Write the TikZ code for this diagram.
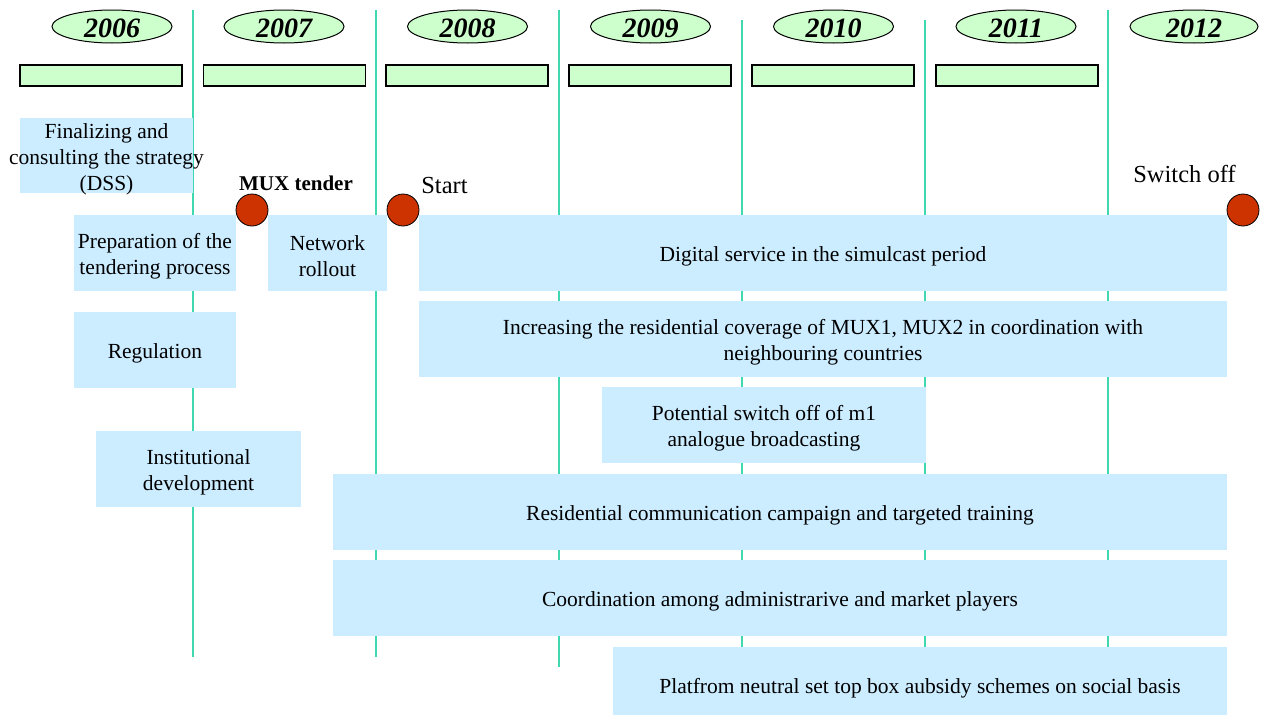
\documentclass[tikz,border=0pt]{standalone}
\usepackage{fontspec}
\setmainfont{Liberation Serif}
\usetikzlibrary{shapes.geometric}
\definecolor{boxblue}{RGB}{204,236,255}
\definecolor{yeargreen}{RGB}{204,255,204}
\definecolor{dotred}{RGB}{204,51,0}
\definecolor{gridline}{RGB}{64,216,176}
\begin{document}
\begin{tikzpicture}[x=1pt,y=-1pt,
  yearell/.style={ellipse, draw=black, line width=1pt, fill=yeargreen, inner sep=0pt,
    minimum width=120pt, minimum height=33pt},
  yeartext/.style={inner sep=0pt, font=\fontsize{28}{30}\selectfont\bfseries\itshape},
  yearbar/.style={draw=black, line width=1.2pt, fill=yeargreen, inner sep=0pt,
    minimum width=162pt, minimum height=21pt},
  box/.style={fill=boxblue, inner sep=0pt},
  boxtext/.style={inner sep=0pt, align=center, font=\fontsize{21.5}{26}\selectfont},
  gline/.style={draw=gridline, line width=2pt},
  milestone/.style={circle, draw=black, line width=0.8pt, fill=dotred, minimum size=32pt, inner sep=0pt},
  mlabel/.style={inner sep=0pt, anchor=base, font=\fontsize{24.5}{28}\selectfont},
  mlabelbold/.style={inner sep=0pt, anchor=base, font=\fontsize{21}{24}\selectfont\bfseries}]
\clip (0,0) rectangle (1264,715);
\fill[white] (0,0) rectangle (1264,715);
% year separators
\draw[gline] (193,10) -- (193,657);
\draw[gline] (376,10) -- (376,657);
\draw[gline] (559,10) -- (559,667);
\draw[gline] (742,20) -- (742,700);
\draw[gline] (925,20) -- (925,700);
\draw[gline] (1108,10) -- (1108,700);
% years
\node[yearell] (y2006) at (112,26.5) {};
\node[yearell] (y2007) at (284,26.5) {};
\node[yearell] (y2008) at (467.5,26.5) {};
\node[yearell] (y2009) at (650.5,26.5) {};
\node[yearell] (y2010) at (833.5,26.5) {};
\node[yearell] (y2011) at (1016,26.5) {};
\node[yearell, minimum width=128pt] (y2012) at (1194,26.5) {};
\foreach \n/\t in {y2006/2006,y2007/2007,y2008/2008,y2009/2009,y2010/2010,y2011/2011,y2012/2012}
  \node[yeartext] (\n t) at ([yshift=-2pt]\n.center) {\t};
% bars
\node[yearbar] (b2006) at (101,75.5) {};
\node[yearbar] (b2007) at (284.5,75.5) {};
\node[yearbar] (b2008) at (467,75.5) {};
\node[yearbar] (b2009) at (650,75.5) {};
\node[yearbar] (b2010) at (833,75.5) {};
\node[yearbar] (b2011) at (1017,75.5) {};
% activity boxes
\node[box, minimum width=173pt, minimum height=75pt] (fin) at (106.5,155.5) {};
\node[box, minimum width=162pt, minimum height=76pt] (prep) at (155,253) {};
\node[box, minimum width=119pt, minimum height=76pt] (net) at (327.5,253) {};
\node[box, minimum width=808pt, minimum height=76pt] (dig) at (823,253) {};
\node[box, minimum width=808pt, minimum height=76pt] (inc) at (823,339) {};
\node[box, minimum width=162pt, minimum height=76pt] (reg) at (155,350) {};
\node[box, minimum width=324pt, minimum height=76pt] (pot) at (764,425) {};
\node[box, minimum width=205pt, minimum height=76pt] (inst) at (198.5,469) {};
\node[box, minimum width=894pt, minimum height=76pt] (res) at (780,512) {};
\node[box, minimum width=894pt, minimum height=76pt] (coo) at (780,598) {};
\node[box, minimum width=614pt, minimum height=76pt] (plat) at (920,685) {};
% activity texts
\node[boxtext] (fint) at ([yshift=-4pt]fin.center) {Finalizing and\\consulting the strategy\\(DSS)};
\node[boxtext] (prept) at ([yshift=-3pt]prep.center) {Preparation of the\\tendering process};
\node[boxtext] (nett) at ([yshift=-3pt]net.center) {Network\\rollout};
\node[boxtext] (digt) at ([yshift=-3pt]dig.center) {Digital service in the simulcast period};
\node[boxtext] (inct) at ([yshift=-3pt]inc.center) {Increasing the residential coverage of MUX1, MUX2 in coordination with\\neighbouring countries};
\node[boxtext] (regt) at ([yshift=-3pt]reg.center) {Regulation};
\node[boxtext] (pott) at ([yshift=-3pt]pot.center) {Potential switch off of m1\\analogue broadcasting};
\node[boxtext] (instt) at ([yshift=-3pt]inst.center) {Institutional\\development};
\node[boxtext] (rest) at ([yshift=-3pt]res.center) {Residential communication campaign and targeted training};
\node[boxtext] (coot) at ([yshift=-3pt]coo.center) {Coordination among administrarive and market players};
\node[boxtext] (platt) at ([yshift=-3pt]plat.center) {Platfrom neutral set top box aubsidy schemes on social basis};
% milestones
\node[milestone] (mux) at (252,210) {};
\node[milestone] (start) at (403,210) {};
\node[milestone] (off) at (1243,210) {};
\node[mlabelbold] (muxlabel) at (296,190) {MUX tender};
\node[mlabel] (startlabel) at (444.5,193) {Start};
\node[mlabel] (offlabel) at (1184.5,182) {Switch off};
\end{tikzpicture}
\end{document}
